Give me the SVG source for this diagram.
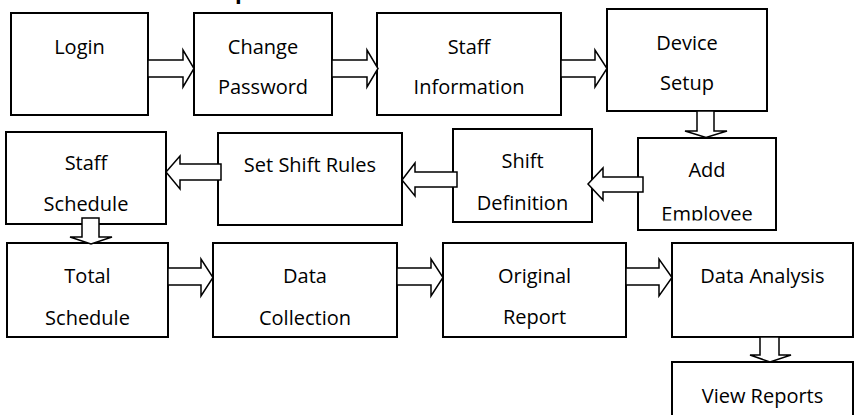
<svg xmlns="http://www.w3.org/2000/svg" width="855" height="415" viewBox="0 0 855 415">
  <style>
    .box { fill: #ffffff; stroke: #000000; stroke-width: 2; }
    .lbl { font-family: "Open Sans", "Noto Sans", sans-serif; font-size: 20px; fill: #000000; text-anchor: middle; }
    .title { font-family: "Open Sans", "Noto Sans", sans-serif; font-size: 22px; font-weight: bold; fill: #000000; }
    .arrow { fill: #ffffff; stroke: #000000; stroke-width: 1.5; stroke-linejoin: miter; }
  </style>
  <defs>
    <clipPath id="clip-add">
      <rect x="638" y="138" width="138" height="82.5"/>
    </clipPath>
  </defs>
  <rect width="855" height="415" fill="#ffffff"/>

  <!-- heading, cropped at the top edge -->
  <text class="title" x="235" y="-1">p</text>

  <!-- row 1 -->
  <g id="login">
    <rect class="box" x="11" y="13" width="137" height="102"/>
    <text class="lbl" x="79.5" y="54">Login</text>
  </g>
  <g id="change-password">
    <rect class="box" x="194" y="13" width="138" height="102"/>
    <text class="lbl" x="263" y="54">Change</text>
    <text class="lbl" x="263" y="94">Password</text>
  </g>
  <g id="staff-information">
    <rect class="box" x="377" y="13" width="184" height="102"/>
    <text class="lbl" x="469" y="54">Staff</text>
    <text class="lbl" x="469" y="94">Information</text>
  </g>
  <g id="device-setup">
    <rect class="box" x="607" y="9" width="160" height="102"/>
    <text class="lbl" x="687" y="50">Device</text>
    <text class="lbl" x="687" y="90">Setup</text>
  </g>

  <!-- row 2 -->
  <g id="add-employee">
    <rect class="box" x="638" y="138" width="138" height="92"/>
    <text class="lbl" x="707" y="177">Add</text>
    <text class="lbl" x="707" y="220.5" clip-path="url(#clip-add)">Employee</text>
  </g>
  <g id="shift-definition">
    <rect class="box" x="453" y="129" width="139" height="93"/>
    <text class="lbl" x="522.5" y="168">Shift</text>
    <text class="lbl" x="522.5" y="210">Definition</text>
  </g>
  <g id="set-shift-rules">
    <rect class="box" x="218" y="133" width="184" height="92"/>
    <text class="lbl" x="310" y="172">Set Shift Rules</text>
  </g>
  <g id="staff-schedule">
    <rect class="box" x="6" y="132" width="160" height="92"/>
    <text class="lbl" x="86" y="170">Staff</text>
    <text class="lbl" x="86" y="211">Schedule</text>
  </g>

  <!-- row 3 -->
  <g id="total-schedule">
    <rect class="box" x="7" y="243" width="161" height="94"/>
    <text class="lbl" x="87.5" y="283">Total</text>
    <text class="lbl" x="87.5" y="325">Schedule</text>
  </g>
  <g id="data-collection">
    <rect class="box" x="213" y="243" width="184" height="94"/>
    <text class="lbl" x="305" y="283">Data</text>
    <text class="lbl" x="305" y="325">Collection</text>
  </g>
  <g id="original-report">
    <rect class="box" x="443" y="243" width="183" height="94"/>
    <text class="lbl" x="534.5" y="283">Original</text>
    <text class="lbl" x="534.5" y="324">Report</text>
  </g>
  <g id="data-analysis">
    <rect class="box" x="672" y="243" width="181" height="94"/>
    <text class="lbl" x="762.5" y="283">Data Analysis</text>
  </g>
  <g id="view-reports">
    <rect class="box" x="672" y="362" width="181" height="60"/>
    <text class="lbl" x="762.5" y="403">View Reports</text>
  </g>

  <!-- block arrows -->
  <g id="connectors">
    <path class="arrow" d="M148,60 L183,60 L183,50 L194,68.5 L183,87 L183,77 L148,77 Z"/>
    <path class="arrow" d="M332,60 L367,60 L367,50 L378,68.5 L367,87 L367,77 L332,77 Z"/>
    <path class="arrow" d="M561,60 L595,60 L595,50 L607,68.5 L595,87 L595,77 L561,77 Z"/>
    <path class="arrow" d="M697,111 L697,131 L685,131 L706,137.5 L727,131 L714,131 L714,111 Z"/>
    <path class="arrow" d="M643,177 L603,177 L603,168 L588,184 L603,200 L603,192 L643,192 Z"/>
    <path class="arrow" d="M457,172 L415,172 L415,163 L402,180 L415,196 L415,187 L457,187 Z"/>
    <path class="arrow" d="M221,164 L180,164 L180,156 L166,172 L180,189 L180,180 L221,180 Z"/>
    <path class="arrow" d="M82,218 L82,237 L70,237 L91,244 L112,237 L99,237 L99,218 Z"/>
    <path class="arrow" d="M168,268 L201,268 L201,259 L213,277.5 L201,296 L201,285 L168,285 Z"/>
    <path class="arrow" d="M397,268 L431,268 L431,259 L443,277.5 L431,296 L431,285 L397,285 Z"/>
    <path class="arrow" d="M626,268 L659,268 L659,259 L672,277.5 L659,296 L659,285 L626,285 Z"/>
    <path class="arrow" d="M760,337 L760,355 L750,355 L770,362 L791,355 L779,355 L779,337 Z"/>
  </g>
</svg>
